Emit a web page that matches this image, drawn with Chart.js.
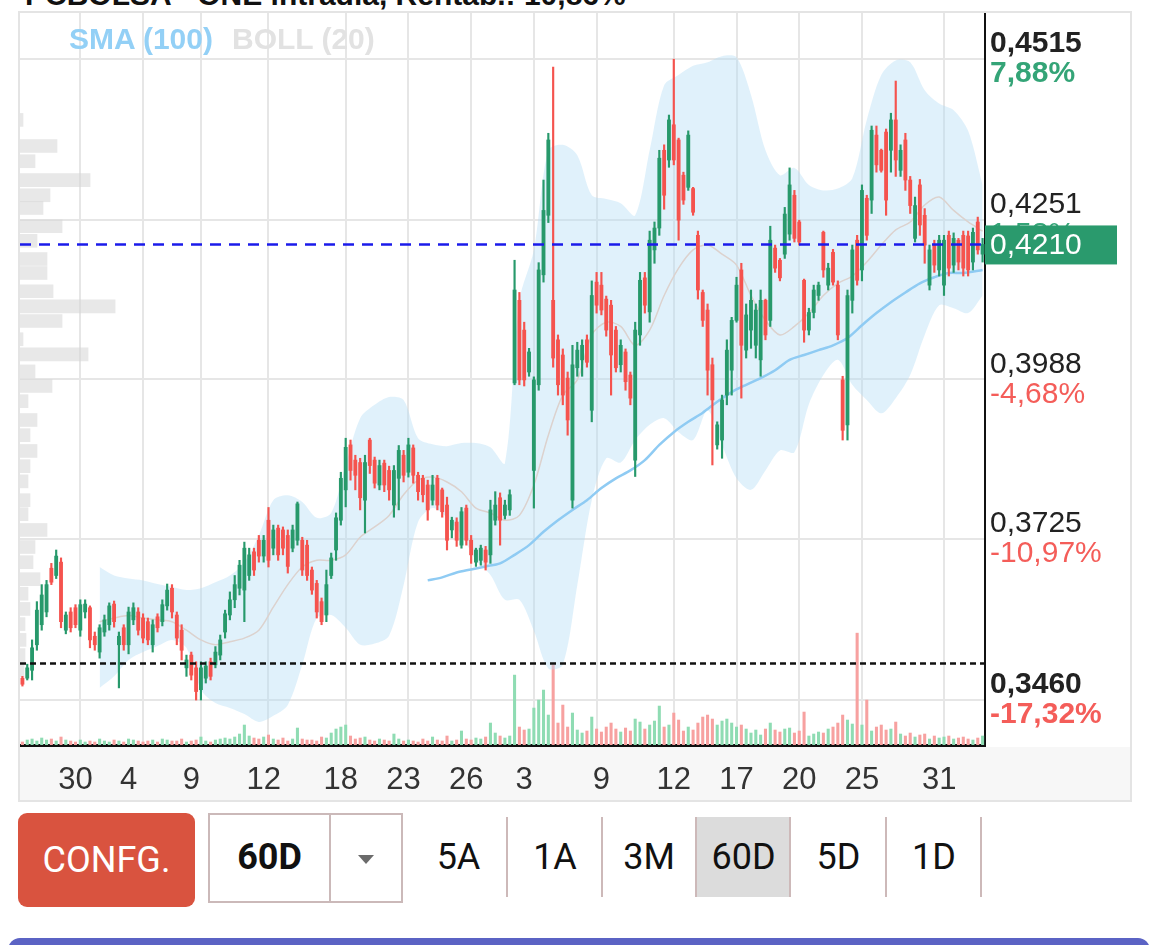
<!DOCTYPE html>
<html>
<head>
<meta charset="utf-8">
<script src="https://cdn.jsdelivr.net/npm/chart.js@4.4.1/dist/chart.umd.min.js"></script>
<style>
  body { margin: 0; width: 1170px; height: 945px; overflow: hidden; background: #fff; position: relative; font-family: 'Liberation Sans', Arial, sans-serif; }
  #title { position: absolute; left: 25px; top: -22px; font: bold 30px 'Liberation Sans', Arial, sans-serif; color: #111; white-space: nowrap; }
  #frame { position: absolute; left: 18px; top: 11px; width: 1114px; height: 791px; border: 2px solid #e4e4e4; box-sizing: border-box; }
  #xband { position: absolute; left: 20px; top: 747px; width: 1110px; height: 53px; background: #f7f7f7; }
  #wrap { position: absolute; left: 20px; top: 13px; width: 1110px; height: 787px; }
  #legend span { position: absolute; top: 22px; font: bold 30px 'Liberation Sans', Arial, sans-serif; white-space: nowrap; }
  #legend .sma { left: 69px; color: #93d0f6; }
  #legend .boll { left: 232px; color: #e2e2e2; }
  .ctl { position: absolute; font-family: Roboto, 'Liberation Sans', sans-serif; font-size: 36px; color: #111; text-align: center; }
  #conf { left: 18px; top: 813px; width: 177px; height: 94px; line-height: 94px; background: #d9533f; color: #fff; border-radius: 9px; }
  #select { left: 208px; top: 813px; width: 195px; height: 90px; border: 2px solid #cbb9b9; box-sizing: border-box; }
  #select .val { position: absolute; left: 0; top: 0; width: 119px; height: 86px; line-height: 84px; font-weight: bold; }
  #select .sep { position: absolute; left: 119px; top: 0; width: 2px; height: 86px; background: #cbb9b9; }
  #select .arrow { position: absolute; left: 148px; top: 40px; width: 0; height: 0; border-left: 8px solid transparent; border-right: 8px solid transparent; border-top: 9px solid #6b6b6b; }
  .tab { top: 817px; height: 80px; line-height: 80px; }
  .div { position: absolute; top: 817px; width: 2px; height: 80px; background: #cdb9b9; }
  #bar { position: absolute; left: 8px; top: 938px; width: 1142px; height: 24px; background: #5b63c4; border-radius: 12px; }
</style>
</head>
<body>
<div id="title">PCBOLSA - ONE intradía, Rentab.: 10,86%</div>
<div id="frame"></div>
<div id="xband"></div>
<div id="wrap"><canvas id="chart"></canvas></div>
<div id="legend"><span class="sma">SMA (100)</span><span class="boll">BOLL (20)</span></div>

<div class="ctl" id="conf">CONFG.</div>
<div class="ctl" id="select"><div class="val">60D</div><div class="sep"></div><div class="arrow"></div></div>
<div class="ctl tab" style="left:410px;width:97px">5A</div>
<div class="div" style="left:506px"></div>
<div class="ctl tab" style="left:508px;width:94px">1A</div>
<div class="div" style="left:601px"></div>
<div class="ctl tab" style="left:603px;width:92px">3M</div>
<div class="div" style="left:695px"></div>
<div class="ctl tab" style="left:697px;width:93px;background:#dcdcdc">60D</div>
<div class="div" style="left:789px"></div>
<div class="ctl tab" style="left:791px;width:95px">5D</div>
<div class="div" style="left:885px"></div>
<div class="ctl tab" style="left:887px;width:94px">1D</div>
<div class="div" style="left:980px"></div>
<div id="bar"></div>

<script>
// candles (60 days, intraday), oldest first
const opens = [
  0.3496, 0.3496, 0.3509, 0.3551, 0.3584, 0.3605, 0.3677, 0.3665, 0.3687, 0.3575,
  0.3605, 0.3612, 0.3575, 0.3605, 0.3612, 0.3565, 0.3539, 0.3572, 0.3584, 0.3618,
  0.3551, 0.3579, 0.3551, 0.3592, 0.3605, 0.3595, 0.3589, 0.3551, 0.3597, 0.3589,
  0.3615, 0.3644, 0.3600, 0.3575, 0.3513, 0.3534, 0.3513, 0.3477, 0.3496, 0.3523,
  0.3518, 0.3534, 0.3572, 0.3600, 0.3625, 0.3644, 0.3641, 0.3665, 0.3704, 0.3723,
  0.3697, 0.3756, 0.3710, 0.3743, 0.3740, 0.3731, 0.3710, 0.3723, 0.3723, 0.3715,
  0.3674, 0.3652, 0.3622, 0.3600, 0.3665, 0.3707, 0.3756, 0.3806, 0.3880, 0.3855,
  0.3851, 0.3789, 0.3888, 0.3855, 0.3814, 0.3850, 0.3838, 0.3781, 0.3825, 0.3863,
  0.3835, 0.3875, 0.3830, 0.3825, 0.3814, 0.3789, 0.3825, 0.3806, 0.3781, 0.3740,
  0.3753, 0.3715, 0.3776, 0.3723, 0.3687, 0.3690, 0.3707, 0.3699, 0.3756, 0.3793,
  0.3764, 0.3773, 0.3982, 0.4118, 0.4069, 0.4000, 0.3838, 0.3979, 0.4160, 0.4258,
  0.4118, 0.4053, 0.4028, 0.3990, 0.3789, 0.4007, 0.4020, 0.4053, 0.3937, 0.4148,
  0.4143, 0.4120, 0.4110, 0.4069, 0.4012, 0.4033, 0.3995, 0.3855, 0.4061, 0.4155,
  0.4099, 0.4201, 0.4237, 0.4365, 0.4349, 0.4407, 0.4382, 0.4324, 0.4304, 0.4302,
  0.4225, 0.4131, 0.4102, 0.4012, 0.3880, 0.3888, 0.3962, 0.4003, 0.4085, 0.4168,
  0.4036, 0.4069, 0.4044, 0.4020, 0.4118, 0.4085, 0.4204, 0.4184, 0.4194, 0.4227,
  0.4291, 0.4247, 0.4151, 0.4069, 0.4098, 0.4126, 0.4230, 0.4143, 0.4197, 0.4143,
  0.3987, 0.3913, 0.4118, 0.4217, 0.4168, 0.4286, 0.4283, 0.4390, 0.4365, 0.4395,
  0.4365, 0.4415, 0.4332, 0.4382, 0.4316, 0.4220, 0.4308, 0.4258, 0.4143, 0.4209,
  0.4168, 0.4143, 0.4225, 0.4176, 0.4217, 0.4225, 0.4224, 0.4181, 0.4247, 0.4194
];
const highs = [
  0.3499, 0.3519, 0.3559, 0.3622, 0.3650, 0.3657, 0.3685, 0.3707, 0.3694, 0.3605,
  0.3612, 0.3617, 0.3625, 0.3625, 0.3615, 0.3572, 0.3584, 0.3600, 0.3620, 0.3623,
  0.3572, 0.3584, 0.3613, 0.3620, 0.3612, 0.3602, 0.3595, 0.3592, 0.3602, 0.3625,
  0.3651, 0.3650, 0.3605, 0.3584, 0.3534, 0.3539, 0.3523, 0.3523, 0.3523, 0.3529,
  0.3548, 0.3567, 0.3608, 0.3638, 0.3665, 0.3690, 0.3720, 0.3710, 0.3710, 0.3731,
  0.3731, 0.3777, 0.3748, 0.3748, 0.3745, 0.3740, 0.3748, 0.3786, 0.3728, 0.3723,
  0.3679, 0.3657, 0.3628, 0.3674, 0.3702, 0.3768, 0.3835, 0.3891, 0.3888, 0.3863,
  0.3858, 0.3863, 0.3891, 0.3860, 0.3855, 0.3855, 0.3845, 0.3846, 0.3879, 0.3871,
  0.3891, 0.3880, 0.3835, 0.3830, 0.3822, 0.3830, 0.3830, 0.3809, 0.3794, 0.3761,
  0.3760, 0.3777, 0.3781, 0.3731, 0.3710, 0.3715, 0.3713, 0.3789, 0.3803, 0.3801,
  0.3789, 0.3806, 0.4184, 0.4131, 0.4082, 0.4039, 0.3992, 0.4180, 0.4316, 0.4393,
  0.4502, 0.4061, 0.4038, 0.4000, 0.4044, 0.4049, 0.4053, 0.4061, 0.4150, 0.4164,
  0.4164, 0.4125, 0.4118, 0.4075, 0.4053, 0.4038, 0.4000, 0.4082, 0.4164, 0.4164,
  0.4232, 0.4247, 0.4365, 0.4374, 0.4423, 0.4515, 0.4385, 0.4329, 0.4397, 0.4304,
  0.4232, 0.4135, 0.4112, 0.4023, 0.3918, 0.3962, 0.4053, 0.4090, 0.4156, 0.4179,
  0.4112, 0.4135, 0.4112, 0.4135, 0.4120, 0.4240, 0.4209, 0.4187, 0.4271, 0.4336,
  0.4299, 0.4250, 0.4153, 0.4105, 0.4143, 0.4148, 0.4232, 0.4179, 0.4202, 0.4150,
  0.3993, 0.4135, 0.4209, 0.4225, 0.4308, 0.4291, 0.4405, 0.4405, 0.4367, 0.4400,
  0.4426, 0.4479, 0.4374, 0.4393, 0.4322, 0.4288, 0.4317, 0.4269, 0.4209, 0.4217,
  0.4225, 0.4225, 0.4232, 0.4229, 0.4220, 0.4232, 0.4232, 0.4237, 0.4255, 0.4220
];
const lows = [
  0.3483, 0.3493, 0.3493, 0.3542, 0.3575, 0.3597, 0.3650, 0.3660, 0.3579, 0.3569,
  0.3572, 0.3579, 0.3565, 0.3595, 0.3546, 0.3542, 0.3529, 0.3565, 0.3575, 0.3580,
  0.3480, 0.3542, 0.3536, 0.3584, 0.3567, 0.3554, 0.3551, 0.3539, 0.3572, 0.3582,
  0.3608, 0.3595, 0.3551, 0.3526, 0.3499, 0.3493, 0.3460, 0.3460, 0.3488, 0.3493,
  0.3513, 0.3526, 0.3562, 0.3592, 0.3612, 0.3633, 0.3589, 0.3657, 0.3665, 0.3687,
  0.3687, 0.3679, 0.3699, 0.3690, 0.3699, 0.3669, 0.3704, 0.3715, 0.3665, 0.3657,
  0.3634, 0.3595, 0.3584, 0.3589, 0.3660, 0.3690, 0.3748, 0.3778, 0.3822, 0.3806,
  0.3773, 0.3735, 0.3833, 0.3809, 0.3806, 0.3803, 0.3789, 0.3761, 0.3773, 0.3819,
  0.3827, 0.3817, 0.3789, 0.3786, 0.3756, 0.3781, 0.3773, 0.3761, 0.3707, 0.3727,
  0.3713, 0.3710, 0.3715, 0.3685, 0.3680, 0.3682, 0.3674, 0.3685, 0.3748, 0.3715,
  0.3758, 0.3764, 0.3979, 0.3979, 0.3977, 0.3993, 0.3776, 0.3970, 0.4148, 0.4246,
  0.4008, 0.3962, 0.3946, 0.3896, 0.3776, 0.3993, 0.3993, 0.4008, 0.3918, 0.4097,
  0.4094, 0.4059, 0.3962, 0.4000, 0.4000, 0.3970, 0.3946, 0.3828, 0.4044, 0.4097,
  0.4082, 0.4179, 0.4225, 0.4268, 0.4337, 0.4341, 0.4217, 0.4276, 0.4299, 0.4258,
  0.4120, 0.4075, 0.3962, 0.3847, 0.3873, 0.3858, 0.3946, 0.3962, 0.4082, 0.3957,
  0.4023, 0.4039, 0.4023, 0.3993, 0.4053, 0.4075, 0.4164, 0.4150, 0.4187, 0.4217,
  0.4214, 0.4209, 0.4049, 0.4061, 0.4089, 0.4118, 0.4156, 0.4135, 0.4143, 0.4053,
  0.3888, 0.3888, 0.4097, 0.4143, 0.4150, 0.4217, 0.4261, 0.4329, 0.4329, 0.4258,
  0.4329, 0.4322, 0.4322, 0.4299, 0.4261, 0.4214, 0.4225, 0.4179, 0.4135, 0.4164,
  0.4158, 0.4126, 0.4158, 0.4164, 0.4168, 0.4158, 0.4158, 0.4168, 0.4194, 0.4181
];
const closes = [
  0.3486, 0.3513, 0.3546, 0.3608, 0.3633, 0.3650, 0.3654, 0.3697, 0.3589, 0.3600,
  0.3579, 0.3584, 0.3617, 0.3618, 0.3559, 0.3551, 0.3579, 0.3592, 0.3615, 0.3589,
  0.3565, 0.3551, 0.3605, 0.3612, 0.3575, 0.3562, 0.3559, 0.3584, 0.3579, 0.3617,
  0.3641, 0.3605, 0.3562, 0.3542, 0.3526, 0.3501, 0.3474, 0.3513, 0.3516, 0.3499,
  0.3539, 0.3559, 0.3602, 0.3625, 0.3650, 0.3682, 0.3710, 0.3699, 0.3674, 0.3697,
  0.3723, 0.3690, 0.3740, 0.3699, 0.3710, 0.3680, 0.3740, 0.3783, 0.3674, 0.3665,
  0.3641, 0.3605, 0.3589, 0.3650, 0.3694, 0.3760, 0.3825, 0.3876, 0.3838, 0.3830,
  0.3793, 0.3851, 0.3846, 0.3817, 0.3846, 0.3814, 0.3806, 0.3838, 0.3871, 0.3830,
  0.3880, 0.3830, 0.3803, 0.3798, 0.3773, 0.3814, 0.3781, 0.3770, 0.3723, 0.3756,
  0.3723, 0.3770, 0.3723, 0.3699, 0.3707, 0.3710, 0.3687, 0.3773, 0.3781, 0.3756,
  0.3781, 0.3798, 0.4135, 0.3987, 0.3987, 0.4033, 0.3987, 0.4168, 0.4266, 0.4382,
  0.4023, 0.3979, 0.3962, 0.3921, 0.4012, 0.4036, 0.4044, 0.4016, 0.4126, 0.4110,
  0.4102, 0.4069, 0.4028, 0.4007, 0.4044, 0.3984, 0.3957, 0.4069, 0.4151, 0.4110,
  0.4217, 0.4237, 0.4352, 0.4291, 0.4415, 0.4349, 0.4250, 0.4283, 0.4390, 0.4263,
  0.4135, 0.4085, 0.4003, 0.3954, 0.3913, 0.3954, 0.4036, 0.4085, 0.4143, 0.4044,
  0.4094, 0.4118, 0.4102, 0.4118, 0.4061, 0.4217, 0.4171, 0.4155, 0.4260, 0.4308,
  0.4220, 0.4214, 0.4069, 0.4098, 0.4135, 0.4143, 0.4168, 0.4171, 0.4148, 0.4061,
  0.3904, 0.4126, 0.4201, 0.4151, 0.4299, 0.4225, 0.4398, 0.4341, 0.4332, 0.4283,
  0.4415, 0.4349, 0.4365, 0.4316, 0.4274, 0.4274, 0.4242, 0.4209, 0.4201, 0.4176,
  0.4217, 0.4217, 0.4171, 0.4220, 0.4181, 0.4171, 0.4168, 0.4230, 0.4201, 0.4210
];
const volumes = [
  30, 50, 60, 40, 70, 50, 60, 40, 80, 50,
  40, 30, 50, 30, 40, 30, 60, 40, 30, 50,
  40, 30, 60, 50, 40, 30, 40, 50, 30, 60,
  50, 40, 40, 60, 30, 40, 50, 80, 40, 30,
  50, 60, 70, 60, 80, 110, 200, 90, 70, 60,
  80, 100, 60, 50, 70, 40, 60, 170, 60, 50,
  50, 40, 80, 70, 120, 160, 180, 200, 90, 60,
  70, 80, 50, 40, 60, 50, 40, 110, 60, 40,
  50, 40, 30, 60, 40, 80, 50, 40, 90, 40,
  50, 140, 60, 50, 70, 60, 80, 220, 120, 90,
  70, 90, 700, 180, 150, 160, 370, 450, 550, 300,
  800, 220, 400, 180, 320, 150, 120, 140, 280, 160,
  130, 180, 220, 160, 130, 170, 140, 260, 230, 160,
  200, 240, 390, 180, 200, 320, 250, 140, 180, 150,
  220, 280, 300, 260, 200, 240, 260, 220, 180, 200,
  160, 120, 150, 100, 160, 220, 150, 130, 160, 170,
  120, 140, 330, 90, 110, 130, 120, 160, 180, 220,
  300, 250, 210, 1120, 200, 450, 140, 180, 200, 150,
  160, 230, 110, 90, 120, 80, 100, 110, 60, 90,
  70, 80, 90, 60, 70, 80, 60, 50, 70, 90
];

// day labels on the time axis (candle index -> day of month)
const dayTickIndex = [11, 22, 35, 50, 66, 79, 92, 104, 120, 135, 148, 161, 174, 190];
const dayTickText = ['30', '4', '9', '12', '18', '23', '26', '3', '9', '12', '17', '20', '25', '31'];
const weekGridIndex = [12, 25, 37, 51, 67, 80, 93, 106, 119, 135, 148, 161, 174, 191];

// price axis
const priceTicks = [0.3460, 0.3725, 0.3988, 0.4251, 0.4515];
const priceTickPct = ['-17,32%', '-10,97%', '-4,68%', '1,58%', '7,88%'];
const stopLevel = 0.3521;

// Bollinger (20) and SMA (100), sampled along the candles
const bandIndex = [16, 19, 22, 25, 28, 31, 34, 37, 40, 43, 46, 49, 52, 55, 58, 61, 64, 67, 70, 73,
  76, 79, 82, 85, 88, 91, 94, 97, 100, 103, 106, 109, 112, 115, 118, 121, 124, 127, 130, 133,
  136, 139, 142, 145, 148, 151, 154, 157, 160, 163, 166, 169, 172, 175, 178, 181, 184, 187, 190, 193,
  196, 199];
const bandUpper = [0.3679, 0.3665, 0.3660, 0.3657, 0.3651, 0.3646, 0.3641, 0.3644, 0.3654, 0.3665,
  0.3687, 0.3731, 0.3789, 0.3797, 0.3786, 0.3760, 0.3768, 0.3847, 0.3924, 0.3946,
  0.3959, 0.3954, 0.3891, 0.3881, 0.3878, 0.3883, 0.3883, 0.3876, 0.3850, 0.4118,
  0.4201, 0.4365, 0.4374, 0.4357, 0.4291, 0.4285, 0.4278, 0.4258, 0.4365, 0.4472,
  0.4489, 0.4504, 0.4510, 0.4520, 0.4518, 0.4456, 0.4365, 0.4324, 0.4336, 0.4308,
  0.4299, 0.4302, 0.4319, 0.4415, 0.4489, 0.4513, 0.4510, 0.4464, 0.4442, 0.4431,
  0.4397, 0.4308];
const bandMiddle = [0.3589, 0.3595, 0.3599, 0.3595, 0.3592, 0.3589, 0.3575, 0.3559, 0.3551, 0.3556,
  0.3562, 0.3575, 0.3613, 0.3650, 0.3679, 0.3690, 0.3690, 0.3699, 0.3728, 0.3745,
  0.3764, 0.3798, 0.3822, 0.3827, 0.3819, 0.3803, 0.3776, 0.3768, 0.3756, 0.3764,
  0.3814, 0.3896, 0.3962, 0.3987, 0.4061, 0.4082, 0.4075, 0.4044, 0.4069, 0.4126,
  0.4171, 0.4201, 0.4209, 0.4194, 0.4176, 0.4126, 0.4085, 0.4061, 0.4075, 0.4097,
  0.4126, 0.4146, 0.4158, 0.4181, 0.4209, 0.4234, 0.4247, 0.4275, 0.4288, 0.4266,
  0.4247, 0.4232];
const bandLower = [0.3480, 0.3499, 0.3526, 0.3539, 0.3549, 0.3559, 0.3546, 0.3477, 0.3455, 0.3447,
  0.3437, 0.3424, 0.3434, 0.3452, 0.3518, 0.3595, 0.3600, 0.3579, 0.3551, 0.3553,
  0.3566, 0.3649, 0.3753, 0.3776, 0.3760, 0.3732, 0.3690, 0.3666, 0.3625, 0.3625,
  0.3574, 0.3512, 0.3518, 0.3649, 0.3789, 0.3858, 0.3851, 0.3888, 0.3913, 0.3924,
  0.3901, 0.3888, 0.3937, 0.3880, 0.3825, 0.3806, 0.3838, 0.3871, 0.3868, 0.3947,
  0.3995, 0.4020, 0.3979, 0.3954, 0.3932, 0.3957, 0.3995, 0.4061, 0.4110, 0.4105,
  0.4097, 0.4126];
const smaIndex = [84, 87, 90, 93, 96, 99, 102, 105, 108, 111, 114, 117, 120, 123, 126, 129, 132, 135, 138, 141,
  144, 147, 150, 153, 156, 159, 162, 165, 168, 171, 174, 177, 180, 183, 186, 189, 192, 195, 199];
const smaValues = [0.3657, 0.3662, 0.3670, 0.3675, 0.3680, 0.3685, 0.3699, 0.3715, 0.3737, 0.3756,
  0.3773, 0.3789, 0.3809, 0.3825, 0.3838, 0.3855, 0.3880, 0.3901, 0.3918, 0.3933,
  0.3951, 0.3967, 0.3979, 0.3990, 0.4003, 0.4020, 0.4028, 0.4036, 0.4044, 0.4056,
  0.4077, 0.4097, 0.4115, 0.4131, 0.4146, 0.4156, 0.4163, 0.4163, 0.4168];

// volume by price (left side profile)
const profileLevels = [0.4415, 0.4372, 0.4347, 0.4316, 0.4291, 0.4270, 0.4240, 0.4216, 0.4186, 0.4163,
  0.4133, 0.4108, 0.4084, 0.4054, 0.4029, 0.4001, 0.3977, 0.3952, 0.3921, 0.3896,
  0.3870, 0.3845, 0.3820, 0.3789, 0.3766, 0.3740, 0.3712, 0.3687, 0.3659, 0.3635,
  0.3610, 0.3585, 0.3559, 0.3534, 0.3509];
const profileVolumes = [30, 370, 150, 700, 300, 230, 420, 170, 270, 270,
  330, 950, 420, 30, 680, 150, 320, 80, 170, 100,
  170, 100, 80, 100, 80, 270, 150, 130, 200, 80,
  100, 50, 60, 50, 40];

const GREEN = '#27996b';
const RED = '#f5534e';
const candleIndex = closes.map((c, i) => i);
const lastPrice = closes[closes.length - 1];
const dayLabel = new Map(dayTickIndex.map((idx, k) => [idx, dayTickText[k]]));
const gridSet = new Set(weekGridIndex);
const fmt = v => v.toFixed(4).replace('.', ',');
const isUp = i => closes[i] >= opens[i];
const points = (idx, vals) => idx.map((x, k) => ({ x, y: vals[k] }));
const AXIS_FONT = "'Liberation Sans', Arial, sans-serif";
const isEdgeTick = i => i === 0 || i === priceTicks.length - 1;

// keep the plot flush with the frame: no label overhang padding
function noOverhang(scale) {
  scale.paddingLeft = 0;
  scale.paddingRight = 0;
  scale.paddingTop = 0;
  scale.paddingBottom = 0;
}

const overlay = {
  id: 'overlay',
  afterDatasetsDraw(chart) {
    const { ctx, chartArea: a, scales: { y } } = chart;
    const lines = [
      { value: lastPrice, color: '#1b1bea', dash: [11, 8] },
      { value: stopLevel, color: '#111111', dash: [6, 4] },
    ];
    ctx.save();
    for (const line of lines) {
      const py = Math.round(y.getPixelForValue(line.value)) + 0.5;
      ctx.strokeStyle = line.color;
      ctx.lineWidth = 2.5;
      ctx.setLineDash(line.dash);
      ctx.beginPath();
      ctx.moveTo(a.left, py);
      ctx.lineTo(a.right, py);
      ctx.stroke();
    }
    ctx.restore();
  },
  afterDraw(chart) {
    const { ctx, chartArea: a, scales: { y } } = chart;
    ctx.save();
    ctx.textBaseline = 'middle';
    // change vs reference, under each price tick
    priceTicks.forEach((v, i) => {
      const py = y.getPixelForValue(v);
      ctx.font = (isEdgeTick(i) ? 'bold ' : '') + '30px ' + AXIS_FONT;
      ctx.fillStyle = priceTickPct[i].startsWith('-') ? '#f45d59' : '#34a477';
      ctx.fillText(priceTickPct[i], a.right + 5, py + 15);
    });
    // last price tag
    const py = y.getPixelForValue(lastPrice);
    ctx.fillStyle = '#2a9a6d';
    ctx.fillRect(a.right, py - 19, 132, 39);
    ctx.fillStyle = '#ffffff';
    ctx.font = '30px ' + AXIS_FONT;
    ctx.fillText(fmt(lastPrice), a.right + 5, py + 1);
    ctx.restore();
  },
};

new Chart(document.getElementById('chart'), {
  type: 'bar',
  data: {
    labels: candleIndex,
    datasets: [
      {
        label: 'body',
        data: opens.map((o, i) => [o, closes[i]]),
        backgroundColor: ctx => isUp(ctx.dataIndex) ? GREEN : RED,
        barThickness: 3.2,
        minBarLength: 1.5,
        grouped: false,
        order: 0,
      },
      {
        label: 'wick',
        data: lows.map((l, i) => [l, highs[i]]),
        backgroundColor: ctx => isUp(ctx.dataIndex) ? GREEN : RED,
        barThickness: 1.5,
        grouped: false,
        order: 1,
      },
      {
        type: 'line',
        label: 'SMA (100)',
        data: points(smaIndex, smaValues),
        borderColor: '#8fcbf3',
        borderWidth: 2.5,
        pointRadius: 0,
        tension: 0.3,
        order: 2,
      },
      {
        type: 'line',
        label: 'BOLL mid',
        data: points(bandIndex, bandMiddle),
        borderColor: '#dcd2ce',
        borderWidth: 1.5,
        pointRadius: 0,
        tension: 0.3,
        order: 3,
      },
      {
        type: 'line',
        label: 'BOLL up',
        data: points(bandIndex, bandUpper),
        borderWidth: 0,
        borderColor: 'rgba(0,0,0,0)',
        backgroundColor: 'rgba(178,219,246,0.4)',
        fill: '+1',
        pointRadius: 0,
        tension: 0.3,
        order: 4,
      },
      {
        type: 'line',
        label: 'BOLL low',
        data: points(bandIndex, bandLower),
        borderWidth: 0,
        borderColor: 'rgba(0,0,0,0)',
        fill: false,
        pointRadius: 0,
        tension: 0.3,
        order: 5,
      },
      {
        label: 'volume',
        data: volumes,
        yAxisID: 'yVol',
        backgroundColor: ctx => isUp(ctx.dataIndex) ? '#8fdcb3' : '#f7a1a0',
        barThickness: 2.4,
        grouped: false,
        order: 6,
      },
      {
        label: 'profile',
        data: profileLevels.map((p, k) => ({ x: profileVolumes[k], y: p })),
        indexAxis: 'y',
        xAxisID: 'xProfile',
        yAxisID: 'y',
        backgroundColor: 'rgba(214,214,214,0.55)',
        barThickness: 13,
        grouped: false,
        order: 7,
      },
    ],
  },
  options: {
    responsive: true,
    maintainAspectRatio: false,
    animation: false,
    events: [],
    layout: { padding: 0, autoPadding: false },
    plugins: { legend: { display: false }, tooltip: { enabled: false } },
    scales: {
      x: {
        type: 'category',
        offset: true,
        grid: {
          offset: false,
          drawTicks: false,
          lineWidth: 2,
          color: ctx => gridSet.has(ctx.index) ? '#e6e6e6' : 'rgba(0,0,0,0)',
        },
        border: { color: '#111', width: 3 },
        ticks: {
          autoSkip: false,
          maxRotation: 0,
          minRotation: 0,
          padding: 17,
          color: '#333',
          font: { family: "'Liberation Sans Narrow', 'Liberation Sans', Arial, sans-serif", size: 31 },
          callback: (v, i) => dayLabel.get(i) || '',
        },
        afterFit: s => { s.height = 55; noOverhang(s); },
      },
      y: {
        type: 'linear',
        position: 'right',
        offset: false,
        beginAtZero: false,
        min: 0.3386,
        max: 0.4591,
        afterBuildTicks: s => { s.ticks = priceTicks.map(value => ({ value })); },
        grid: { offset: false, drawTicks: false, color: '#e6e6e6', lineWidth: 2 },
        border: { color: '#111', width: 2 },
        ticks: {
          autoSkip: false,
          padding: 5,
          labelOffset: -15,
          color: '#222',
          font: ctx => ({ family: AXIS_FONT, size: 30, weight: isEdgeTick(ctx.index) ? 'bold' : 'normal' }),
          callback: v => fmt(v),
        },
        afterFit: s => { s.width = 145; noOverhang(s); },
      },
      yVol: {
        type: 'linear',
        axis: 'y',
        display: false,
        offset: false,
        min: 0,
        max: 7330,
      },
      xProfile: {
        type: 'linear',
        axis: 'x',
        display: false,
        offset: false,
        min: 0,
        max: 9640,
      },
    },
  },
  plugins: [overlay],
});
</script>
</body>
</html>
